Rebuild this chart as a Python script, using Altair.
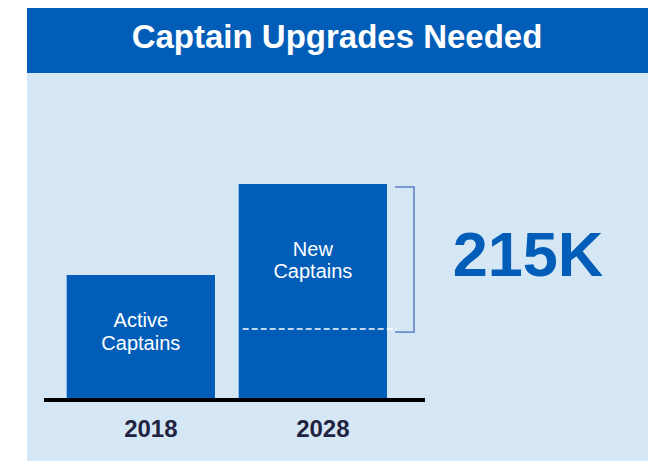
import altair as alt
import pandas as pd

# ---------------- data ----------------
TITLE = "Captain Upgrades Needed"
YEARS = ["2018", "2028"]

SEGMENT_YEAR = ["2018", "2028", "2028"]
SEGMENT_NAME = ["Active Captains", "Retained Captains", "New Captains"]
SEGMENT_LOW = [0, 0, 105]        # thousands of captains (schematic)
SEGMENT_HIGH = [185, 105, 320]
SEGMENT_LABEL = ["Active\nCaptains", "", "New\nCaptains"]

UPGRADE_YEAR = ["2028"]
UPGRADE_LOW = [105]
UPGRADE_HIGH = [320]

# ---------------- styles ----------------
BLUE = "#015db8"
LIGHT = "#d5e7f5"
BRACKET = "#5a7ec6"
FONT = "Liberation Sans"

W, H = 621, 388

bars_df = pd.DataFrame({
    "year": SEGMENT_YEAR, "segment": SEGMENT_NAME,
    "low": SEGMENT_LOW, "high": SEGMENT_HIGH, "label": SEGMENT_LABEL,
})
upg_df = pd.DataFrame({"year": UPGRADE_YEAR, "low": UPGRADE_LOW, "high": UPGRADE_HIGH})
base_df = pd.DataFrame({"first": [YEARS[0]], "last": [YEARS[-1]]})
title_df = pd.DataFrame({"t": [TITLE]})

x_scale = alt.Scale(domain=YEARS, range=[39.7, 360], paddingInner=0.138, paddingOuter=0)
y_scale = alt.Scale(domain=[-90.4, 484.4], nice=False, zero=False)

x_axis = alt.Axis(
    title=None, domain=False, ticks=False, grid=False, labelAngle=0,
    labelFont=FONT, labelFontSize=24, labelFontWeight="bold", labelColor="#1f2340",
    labelBaseline="alphabetic", labelPadding=36, labelOffset=10, offset=-61,
)

header = alt.Chart(title_df).mark_rect(color=BLUE).encode(
    x=alt.value(0), x2=alt.value(W), y=alt.value(-65), y2=alt.value(0)
)
title = alt.Chart(title_df).mark_text(
    font=FONT, fontSize=33, fontWeight="bold", color="white",
    align="center", baseline="alphabetic",
).encode(x=alt.value(310), y=alt.value(-25), text="t:N")

bars = alt.Chart(bars_df).mark_bar(color=BLUE, strokeWidth=0).encode(
    x=alt.X("year:N", scale=x_scale, axis=x_axis),
    y=alt.Y("low:Q", scale=y_scale, axis=None),
    y2="high:Q",
)

baseline = alt.Chart(base_df).mark_rule(
    color="black", strokeWidth=4, xOffset=-22.7, x2Offset=38
).encode(
    x=alt.X("first:N", bandPosition=0),
    x2=alt.X2("last", bandPosition=1),
    y=alt.datum(0),
)

dashed = alt.Chart(upg_df).mark_rule(
    color="white", strokeDash=[6, 3], strokeWidth=1.5, xOffset=4, x2Offset=10
).encode(
    x=alt.X("year:N", bandPosition=0),
    x2=alt.X2("year", bandPosition=1),
    y="low:Q",
)

bracket_v = alt.Chart(upg_df).mark_rule(
    color=BRACKET, strokeWidth=1.5, xOffset=27, yOffset=3, y2Offset=3
).encode(x=alt.X("year:N", bandPosition=1), y="high:Q", y2="low:Q")

bracket_top = alt.Chart(upg_df).mark_rule(
    color=BRACKET, strokeWidth=1.5, xOffset=8, x2Offset=27.7, yOffset=3
).encode(x=alt.X("year:N", bandPosition=1), x2=alt.X2("year", bandPosition=1), y="high:Q")

bracket_bot = alt.Chart(upg_df).mark_rule(
    color=BRACKET, strokeWidth=1.5, xOffset=8, x2Offset=27.7, yOffset=3
).encode(x=alt.X("year:N", bandPosition=1), x2=alt.X2("year", bandPosition=1), y="low:Q")

label_base = alt.Chart(bars_df).transform_calculate(mid="(datum.low + datum.high) / 2")
label_active = label_base.transform_filter(alt.datum.segment == "Active Captains").mark_text(
    font=FONT, fontSize=20, color="white", lineBreak="\n", lineHeight=23,
    align="center", baseline="middle", dy=-17,
).encode(x="year:N", y="mid:Q", text="label:N")
label_new = label_base.transform_filter(alt.datum.segment == "New Captains").mark_text(
    font=FONT, fontSize=20, color="white", lineBreak="\n", lineHeight=22,
    align="center", baseline="middle", dy=-6.5,
).encode(x="year:N", y="mid:Q", text="label:N")

big = alt.Chart(upg_df).transform_calculate(
    mid="(datum.low + datum.high) / 2",
    txt="format(datum.high - datum.low, 'd') + 'K'",
).mark_text(
    font=FONT, fontSize=63, fontWeight="bold", color=BLUE,
    align="center", baseline="alphabetic", dx=141, dy=19.5,
).encode(x=alt.X("year:N", bandPosition=1), y="mid:Q", text="txt:N")

chart = alt.layer(
    header, title, bars, dashed, baseline,
    bracket_v, bracket_top, bracket_bot, label_active, label_new, big,
).properties(
    width=W, height=H, autosize="none",
    padding={"left": 19, "top": 65, "right": 0, "bottom": 0},
    background="white",
).configure_view(fill=LIGHT, strokeWidth=0)

chart.save("out.html", embed_options={"renderer": "svg", "actions": False})
